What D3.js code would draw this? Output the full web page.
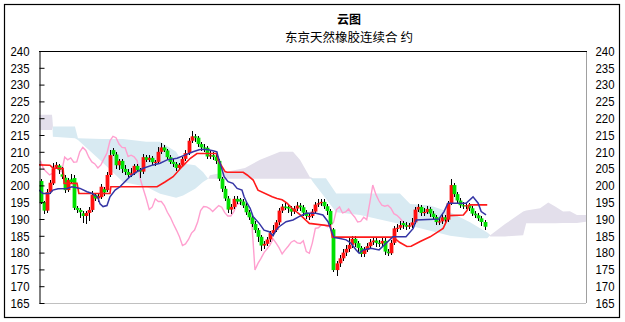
<!DOCTYPE html>
<html><head><meta charset="utf-8">
<script src="https://cdn.jsdelivr.net/npm/d3@7"></script>
<style>body{margin:0;background:#fff}svg{display:block}</style>
</head><body><svg id="c" width="625" height="322"></svg>
<script>
const title = "云图";
const subtitle = "东京天然橡胶连续合 约";
const yTicks = [165,170,175,180,185,190,195,200,205,210,215,220,225,230,235,240];

const opens = [
201.3,195.0,192.5,198.0,200.6,205.3,205.9,203.3,202.3,198.6,
201.8,202.2,193.3,192.7,191.7,190.9,191.8,192.7,197.2,196.1,
196.5,198.9,198.6,203.1,210.5,209.2,206.0,207.3,204.9,204.0,
203.1,203.6,205.8,204.6,204.1,208.4,207.6,208.2,206.9,207.0,
210.0,211.3,210.4,208.4,207.0,206.4,205.2,206.1,207.9,209.6,
213.3,214.6,214.2,212.3,211.3,211.2,208.6,209.0,208.5,207.3,
202.0,199.0,196.1,192.8,193.6,196.0,195.8,195.2,194.0,192.0,
190.5,188.5,186.7,184.7,182.1,182.6,183.9,185.8,186.7,189.0,
192.5,193.7,193.6,193.1,192.2,193.1,194.0,193.5,191.9,190.9,
190.9,192.2,194.3,194.7,195.1,193.8,192.4,186.9,174.8,176.8,
178.3,180.0,181.1,182.3,184.1,182.8,181.4,179.6,180.8,181.9,
183.1,183.6,182.9,182.7,183.5,180.3,179.8,182.9,187.2,187.4,
188.8,188.2,187.7,188.1,189.0,192.8,193.6,191.8,192.1,193.0,
191.6,190.6,189.1,189.3,190.5,189.8,194.7,200.1,197.4,195.5,
194.1,193.8,194.1,193.2,191.6,191.1,190.2,189.1];
const closes = [
195.0,192.5,198.0,200.8,205.1,206.1,204.6,202.6,198.6,201.6,
201.0,193.3,192.7,192.0,190.9,191.8,192.7,197.2,196.1,196.8,
199.6,197.9,203.1,209.0,209.2,206.0,207.3,204.9,204.0,203.1,
203.6,205.8,204.6,204.1,208.4,207.6,208.2,206.9,207.0,210.0,
211.3,210.4,208.4,207.0,206.4,205.2,206.1,207.9,209.6,213.3,
214.6,214.2,212.3,211.3,211.2,208.6,209.0,208.5,207.3,202.0,
199.0,196.1,192.8,193.6,196.0,195.2,195.2,194.0,192.0,190.5,
188.5,186.7,184.7,182.1,182.6,183.9,185.8,186.7,189.0,192.5,
193.7,193.6,193.1,192.2,193.1,194.0,193.5,191.9,190.9,190.9,
192.2,194.3,194.7,195.1,193.8,192.4,188.4,174.8,176.8,178.3,
180.0,181.1,182.3,184.1,182.8,181.4,179.6,180.8,181.9,183.1,
183.6,182.9,182.7,183.5,180.3,179.8,182.9,187.2,187.4,188.2,
188.2,187.7,188.1,189.0,192.8,193.6,191.8,192.1,193.0,191.6,
190.6,189.1,189.3,190.5,189.8,194.7,200.1,197.4,195.5,194.1,
193.8,194.1,193.2,191.6,191.1,190.2,189.1,187.7];
const highs = [
201.8,195.5,198.8,201.5,206.6,206.9,206.4,205.5,203.0,202.2,
203.5,203.0,194.0,193.2,192.3,192.4,193.5,198.4,197.8,197.4,
200.3,199.5,203.9,210.5,211.0,209.8,208.0,207.9,206.2,205.0,
205.3,206.5,206.4,205.2,209.3,209.0,208.9,208.8,207.6,211.4,
212.6,212.0,210.9,209.1,207.8,207.0,206.8,208.6,210.4,214.2,
216.1,215.3,214.8,213.0,212.3,211.8,210.2,209.9,209.2,207.9,
202.6,199.7,196.8,194.5,196.8,196.9,196.2,196.0,194.7,192.8,
191.2,189.3,187.4,185.3,183.4,184.6,186.5,188.2,189.8,193.4,
194.6,195.0,194.4,193.9,194.0,195.0,194.8,194.2,192.8,191.9,
193.1,195.1,195.9,196.0,195.9,194.5,193.0,187.3,177.6,179.2,
181.0,182.3,184.6,185.0,184.9,183.5,182.1,181.6,182.8,183.9,
184.6,184.3,183.8,184.4,184.2,181.2,183.7,188.0,188.6,189.3,
189.4,189.0,188.9,190.2,193.6,194.6,194.2,193.3,193.9,193.6,
192.3,191.2,190.3,191.4,191.2,195.5,201.8,200.8,198.1,196.2,
195.0,194.9,194.7,193.9,192.4,191.9,190.9,189.7];
const lows = [
194.5,191.6,191.8,197.5,200.2,204.8,203.5,202.0,197.8,198.0,
200.4,192.6,191.9,190.2,188.8,188.5,189.4,192.2,195.5,195.2,
195.9,196.8,198.0,202.5,208.7,204.9,204.6,203.8,203.0,202.2,
202.5,203.0,203.9,202.3,203.5,206.9,207.0,206.2,205.9,206.5,
209.4,209.8,207.6,206.3,205.6,204.3,204.6,205.5,207.2,209.0,
212.6,213.0,211.4,210.2,210.0,207.8,207.9,207.5,206.4,201.2,
198.1,195.3,191.8,191.6,192.9,194.4,194.2,193.2,191.1,189.6,
187.6,185.8,183.3,180.6,181.0,181.9,183.1,185.0,186.0,188.3,
191.7,192.6,191.9,191.0,191.4,192.3,192.5,191.0,190.0,189.8,
190.2,191.5,193.5,193.9,192.9,191.3,187.5,174.2,172.9,175.6,
177.5,179.0,180.2,181.5,181.6,179.8,178.6,178.8,180.1,181.0,
182.2,181.8,181.6,181.9,179.4,178.9,179.2,182.3,186.2,186.8,
187.0,186.6,186.9,187.4,188.4,192.0,190.9,191.0,191.4,190.6,
189.6,188.1,188.2,188.6,188.9,189.2,194.1,196.6,194.7,193.3,
192.9,193.0,192.3,190.8,190.2,189.3,188.0,186.8];

// tenkan
const tenkanIdx = [-0.5,0.8,3.1,4.1,5.8,8.8,10.4,13.1,15.4,17.1,19.0,19.7,20.7,22.0,23.0,24.7,26.3,29.6,32.0,34.0,37.3,39.6,41.9,45.2,47.8,50.5,52.8,55.1,57.1,58.4,58.8,59.8,60.8,62.1,63.7,65.1,66.7,67.4,68.4,69.4,70.4,72.4,74.0,75.7,77.0,78.0,79.0,81.3,83.6,85.6,87.9,91.2,93.5,95.2,96.2,97.2,98.8,101.2,102.8,104.5,105.5,106.8,109.4,112.1,116.7,121.0,123.4,124.4,131.9,133.6,134.9,140.9,143.2,144.9,145.9,147.5];
const tenkanVal = [198.6,197.6,197.6,198.6,199.0,199.1,199.6,199.1,198.1,197.6,196.4,194.5,193.7,194.0,196.6,198.6,199.6,202.6,204.1,205.1,206.1,206.6,207.6,208.1,209.0,210.0,210.7,210.7,210.3,210.0,208.5,205.6,202.6,201.1,200.6,199.1,198.6,196.6,194.7,193.2,190.7,188.7,186.7,186.2,185.0,186.7,187.7,189.2,189.7,190.7,191.7,191.7,191.2,189.2,186.7,184.5,184.3,183.8,182.8,180.8,179.8,180.8,181.3,180.8,184.7,184.7,187.2,189.7,190.0,192.2,194.7,194.7,196.6,194.7,192.2,191.2];
// kijun
const kijunIdx = [-0.5,3.1,4.1,7.5,7.8,12.1,12.7,23.0,23.3,38.6,41.2,43.9,46.9,49.5,51.8,58.4,58.8,61.1,61.8,67.1,68.4,70.4,72.0,76.7,78.3,80.0,81.6,83.3,86.0,88.0,89.0,96.0,96.6,116.7,119.0,121.3,122.7,125.7,129.0,131.3,133.3,135.3,140.0,141.2,141.9,147.9];
const kijunVal = [206.1,206.0,205.2,205.0,200.6,200.6,197.6,197.6,199.6,199.6,201.0,202.6,205.6,208.0,209.5,209.5,207.5,204.1,203.9,203.9,203.1,201.6,198.6,196.6,196.1,195.7,194.7,193.2,191.2,189.5,188.7,187.9,184.6,184.6,183.0,181.8,181.9,183.3,184.7,186.0,187.2,191.0,191.2,192.5,194.2,194.2];
// cloud spans
const cloudIdx = [-0.5,3.8,4.1,11.4,12.4,20.4,27.3,35.0,39.6,44.9,47.2,51.2,53.8,55.5,56.1,67.7,72.7,79.3,83.6,85.9,89.2,90.2,94.5,97.9,105.8,119.0,122.4,129.0,135.6,142.2,147.9,148.9,153.8,159.8,160.8,165.4,168.1,170.4,173.0,175.3,177.6,180.6];
const spanA = [216.5,216.5,217.5,217.5,214.0,213.8,213.8,213.0,213.0,210.0,206.5,206.0,204.0,202.0,202.0,202.0,202.0,202.0,202.0,202.0,202.0,202.1,202.1,197.6,197.6,197.6,194.5,194.0,192.0,189.0,186.0,184.8,184.8,185.2,188.7,188.7,188.7,188.7,188.8,188.8,188.8,189.2];
const spanB = [221.0,221.0,214.5,214.0,213.5,207.0,201.0,199.6,197.5,196.3,197.0,199.0,201.0,202.0,203.0,205.2,207.6,210.0,210.0,207.6,202.4,201.0,196.0,192.0,191.2,188.5,188.0,186.5,185.0,184.3,184.3,185.2,188.5,192.2,192.5,193.2,194.9,193.7,192.2,192.3,191.2,191.2];
const chikouShift = 26;
const slotMax = 180.6;

const svg = d3.select("#c");
const L = 39, R = 586, T = 51, B = 303;
const x = d3.scaleLinear().domain([-0.5, slotMax]).range([L, R]);
const y = d3.scaleLinear().domain([165, 240]).range([B, T]);

svg.append("rect").attr("x",4.5).attr("y",4.5).attr("width",615).attr("height",313)
  .attr("fill","#fff").attr("stroke","#000").attr("stroke-width",1.2);

const cjk = "'Noto Sans CJK SC','Noto Sans CJK JP',sans-serif";
svg.append("text").attr("x",349).attr("y",24).attr("text-anchor","middle")
  .attr("font-family",cjk).attr("font-weight","bold").attr("font-size",12).text(title);
svg.append("text").attr("x",349).attr("y",42).attr("text-anchor","middle")
  .attr("font-family",cjk).attr("font-size",12.5).text(subtitle);

svg.append("defs").append("clipPath").attr("id","pc").append("rect")
  .attr("x",L).attr("y",T).attr("width",R-L).attr("height",B-T);
const g = svg.append("g").attr("clip-path","url(#pc)");

const cloud = cloudIdx.map((d,i)=>({i:d,a:spanA[i],b:spanB[i]}));
g.append("path").datum(cloud).attr("fill","#d8eaf2")
  .attr("d", d3.area().x(d=>x(d.i)).y0(d=>y(d.b)).y1(d=>y(Math.max(d.a,d.b))));
g.append("path").datum(cloud).attr("fill","#e3dfeb")
  .attr("d", d3.area().x(d=>x(d.i)).y0(d=>y(d.a)).y1(d=>y(Math.max(d.a,d.b))));

const chikou = closes.slice(chikouShift).map((c,k)=>[k,c]);
g.append("path").datum(chikou).attr("fill","none").attr("stroke","#ff9fcf").attr("stroke-width",1.4)
  .attr("d", d3.line().x(d=>x(d[0])).y(d=>y(d[1])));

const candles = closes.map((c,i)=>({i,o:opens[i],c,h:highs[i],l:lows[i]}));
const cg = g.append("g");
cg.selectAll("line.w").data(candles).join("line")
  .attr("shape-rendering","crispEdges")
  .attr("x1",d=>Math.round(x(d.i))+0.5).attr("x2",d=>Math.round(x(d.i))+0.5)
  .attr("y1",d=>y(d.h)).attr("y2",d=>y(d.l)).attr("stroke","#000").attr("stroke-width",1);
cg.selectAll("rect.b").data(candles).join("rect")
  .attr("x",d=>Math.round(x(d.i))+0.5-1.9).attr("width",3.8)
  .attr("y",d=>y(Math.max(d.o,d.c)))
  .attr("height",d=>Math.max(1.2, Math.abs(y(d.o)-y(d.c))))
  .attr("fill",d=>d.c>=d.o?"#ff1010":"#00e000");

g.append("path").datum(kijunIdx.map((d,i)=>[d,kijunVal[i]])).attr("fill","none")
  .attr("stroke","#ff1a1a").attr("stroke-width",1.6)
  .attr("d", d3.line().x(d=>x(d[0])).y(d=>y(d[1])));
g.append("path").datum(tenkanIdx.map((d,i)=>[d,tenkanVal[i]])).attr("fill","none")
  .attr("stroke","#3535a5").attr("stroke-width",1.5)
  .attr("d", d3.line().x(d=>x(d[0])).y(d=>y(d[1])));

svg.append("line").attr("x1",L).attr("x2",R).attr("y1",B+0.5).attr("y2",B+0.5).attr("stroke","#c0c0c0");
svg.append("line").attr("x1",R+0.5).attr("x2",R+0.5).attr("y1",T).attr("y2",B).attr("stroke","#a0a0a0");
svg.append("line").attr("x1",L).attr("x2",R+1).attr("y1",T+0.5).attr("y2",T+0.5).attr("stroke","#000");

const font = "'Liberation Sans',Arial,sans-serif";
const la = svg.append("g").attr("transform",`translate(${L+0.5},0)`)
  .call(d3.axisLeft(y).tickValues(yTicks).tickSizeInner(-5).tickSizeOuter(0).tickPadding(10).tickFormat(d3.format("d")));
la.select(".domain").attr("stroke","#000");
la.selectAll(".tick line").attr("stroke","#000");
la.selectAll("text").attr("font-family",font).attr("font-size",13.5).attr("fill","#000")
  .attr("textLength",19).attr("lengthAdjust","spacingAndGlyphs");
const ra = svg.append("g").attr("transform",`translate(${R+0.5},0)`)
  .call(d3.axisRight(y).tickValues(yTicks).tickSize(0).tickPadding(9).tickFormat(d3.format("d")));
ra.select(".domain").remove();
ra.selectAll("text").attr("font-family",font).attr("font-size",13.5).attr("fill","#000")
  .attr("textLength",19).attr("lengthAdjust","spacingAndGlyphs");
</script>
</body></html>
